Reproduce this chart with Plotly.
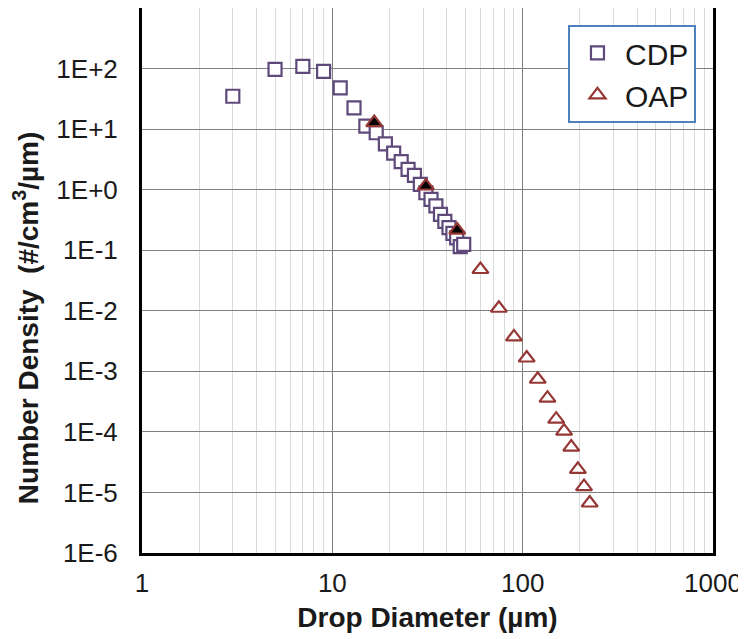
import plotly.graph_objects as go

# CDP size distribution (squares)
cdp_diam = [3, 5, 7, 9, 11, 13, 15, 17, 19, 21, 23, 25,
            27, 29, 31, 33, 35, 37, 39, 41, 43, 45, 47, 49]
cdp_dens = [34.9, 97, 109, 90, 47.9, 22.4, 11.2, 8.7, 5.7, 4.0, 2.9, 2.16,
            1.72, 1.22, 0.89, 0.69, 0.54, 0.39, 0.30, 0.236, 0.19, 0.16, 0.115, 0.125]

# OAP size distribution (triangles)
oap_diam = [60, 75, 90, 105, 120, 135, 150, 165, 180, 195, 210, 225]
oap_dens = [0.048, 0.0110, 0.0037, 0.00166, 7.4e-4, 3.6e-4, 1.62e-4,
            1.03e-4, 5.6e-5, 2.4e-5, 1.25e-5, 6.7e-6]

# first OAP bins, drawn filled
oap_first_diam = [16.6, 31.0, 45.3]
oap_first_dens = [12.8, 1.15, 0.215]

y_tickvals = [1e-6, 1e-5, 1e-4, 1e-3, 1e-2, 1e-1, 1, 10, 100]
y_ticktext = ["1E-6", "1E-5", "1E-4", "1E-3", "1E-2", "1E-1", "1E+0", "1E+1", "1E+2"]
x_tickvals = [1, 10, 100, 1000]
x_ticktext = ["1", "10", "100", "1000"]
x_minor = [m * 10 ** d for d in range(3) for m in range(2, 10)]

purple = "#5F497A"
red = "#953735"
font = "Liberation Sans, Arial, sans-serif"

fig = go.Figure()
fig.add_trace(go.Scatter(
    x=cdp_diam, y=cdp_dens, mode="markers", name="CDP",
    marker=dict(symbol="square", size=13, color="white",
                line=dict(color=purple, width=2.2))))
fig.add_trace(go.Scatter(
    x=oap_diam, y=oap_dens, mode="markers", name="OAP",
    marker=dict(symbol="triangle-up", size=14, color="white",
                line=dict(color=red, width=2.2))))
fig.add_trace(go.Scatter(
    x=oap_first_diam, y=oap_first_dens, mode="markers", showlegend=False,
    marker=dict(symbol="triangle-up", size=14, color="black",
                line=dict(color=red, width=2.2))))

# y title as a rotated annotation (sits a bit below the plot centre)
fig.add_annotation(
    text="<b>Number Density  (#/cm<sup>3</sup>/µm)</b>",
    xref="paper", yref="paper", x=-0.204, y=0.43,
    xanchor="center", yanchor="middle", textangle=-90, showarrow=False,
    font=dict(size=28, color="#1a1a1a"))

# page body adds an 8px margin, so the figure is 8px smaller than the window
fig.update_layout(
    width=738, height=631,
    margin=dict(l=134, r=33, t=0, b=86),
    plot_bgcolor="white", paper_bgcolor="white",
    font=dict(family=font, size=26, color="#1a1a1a"),
    legend=dict(x=0.746, y=0.969, xanchor="left", yanchor="top",
                bgcolor="white", bordercolor="#4F81BD", borderwidth=2,
                itemwidth=45,
                font=dict(size=30, color="#1a1a1a"), tracegroupgap=0),
    xaxis=dict(type="log", range=[0, 3], automargin=False,
               tickvals=x_tickvals, ticktext=x_ticktext,
               showline=True, linecolor="black", linewidth=3, mirror=True,
               showgrid=True, gridcolor="#7f7f7f", gridwidth=1.2,
               ticks="", ticklabelstandoff=5,
               minor=dict(tickvals=x_minor, showgrid=True,
                          gridcolor="#d9d9d9", gridwidth=1.2, ticks=""),
               title=dict(text="<b>Drop Diameter (µm)</b>",
                          font=dict(size=28), standoff=11),
               zeroline=False),
    yaxis=dict(type="log", range=[-6, 3], automargin=False,
               tickvals=y_tickvals, ticktext=y_ticktext,
               showline=True, linecolor="black", linewidth=3, mirror=True,
               showgrid=True, gridcolor="#7f7f7f", gridwidth=1.2,
               ticks="", ticklabelstandoff=16,
               zeroline=False),
)

fig.write_html("out.html")
